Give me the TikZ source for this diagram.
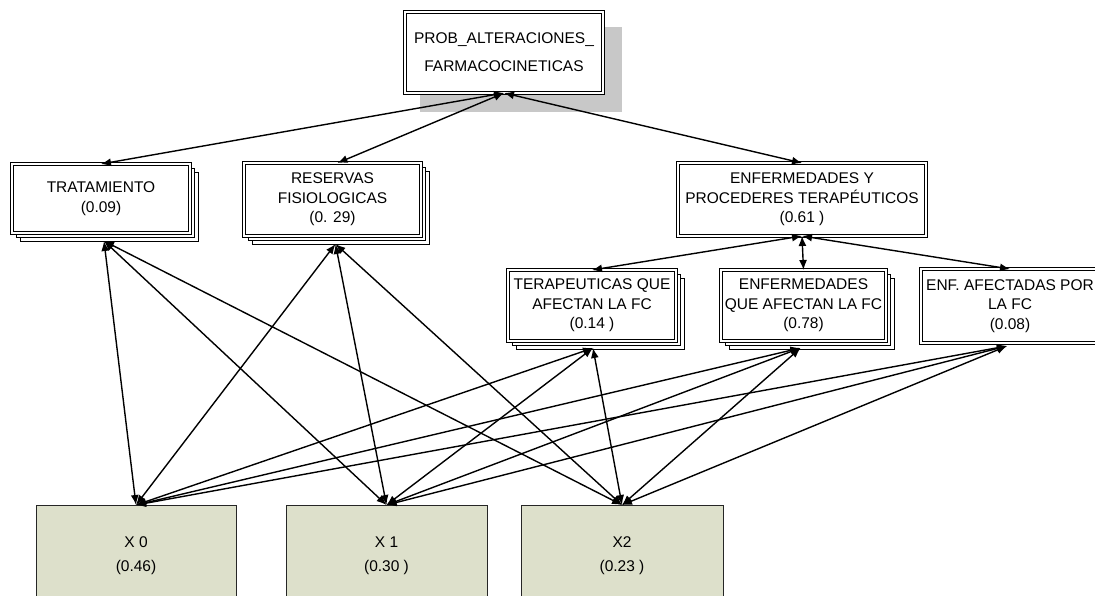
\documentclass[tikz,border=0pt]{standalone}
\usepackage{fontspec}
\setmainfont{Liberation Sans}
\usetikzlibrary{arrows.meta,backgrounds}
\definecolor{xfill}{RGB}{221,224,203}
\definecolor{shadegray}{RGB}{200,200,200}
\begin{document}
\begin{tikzpicture}[x=1pt,y=-1pt,
  every node/.style={font=\fontsize{15.5}{19.5}\selectfont, align=center, inner sep=0pt, outer sep=0pt},
  dbox/.style={draw=black, fill=white, line width=1pt, double=white, double distance=2pt},
  stackline/.style={draw=black, fill=white, line width=1pt},
  xbox/.style={draw=black!85, fill=xfill, line width=1pt, font=\fontsize{15.5}{24}\selectfont},
  link/.style={line width=1.4pt, {Latex[length=10pt,width=8pt]}-{Latex[length=10pt,width=8pt]}}
]
\useasboundingbox (0,0) rectangle (1095,595);
\clip (0,0) rectangle (1095,595);

% upper nodes
\node[dbox, minimum width=198pt, minimum height=81pt, font=\fontsize{15.5}{28}\selectfont] (top) at (504,52.5) {PROB\_ALTERACIONES\_\\FARMACOCINETICAS};
\node[dbox, minimum width=178pt, minimum height=69pt] (trat) at (101,198.5) {TRATAMIENTO\\(0.09)};
\node[dbox, minimum width=177pt, minimum height=73pt] (res) at (332.5,199.5) {RESERVAS\\FISIOLOGICAS\\(0. 29)};
\node[dbox, minimum width=248pt, minimum height=73pt] (enfyp) at (802,199.5) {ENFERMEDADES Y\\PROCEDERES TERAPÉUTICOS\\(0.61 )};
\node[dbox, minimum width=168pt, minimum height=71pt] (ter) at (592,305.5) {TERAPEUTICAS QUE\\AFECTAN LA FC\\(0.14 )};
\node[dbox, minimum width=165pt, minimum height=71pt] (eq) at (803.5,305.5) {ENFERMEDADES\\QUE AFECTAN LA FC\\(0.78)};
\node[dbox, minimum width=178pt, minimum height=74pt] (ea) at (1010,306) {ENF. AFECTADAS POR\\LA FC\\(0.08)};

% lower nodes
\node[xbox, minimum width=200pt, minimum height=102pt] (x0) at (136,556) {X 0\\(0.46)};
\node[xbox, minimum width=201pt, minimum height=102pt] (x1) at (386.5,556) {X 1\\(0.30 )};
\node[xbox, minimum width=202pt, minimum height=102pt] (x2) at (622,556) {X2\\(0.23 )};

% shadow and stacked copies behind
\begin{scope}[on background layer]
  \fill[shadegray] ([shift={(15pt,-19pt)}]top.south west) rectangle ([shift={(19pt,-15pt)}]top.north east);
  \foreach \n in {trat,res,ter,eq}{
    \draw[stackline] ([shift={(8pt,-8pt)}]\n.south west) rectangle ([shift={(8pt,-8pt)}]\n.north east);
    \draw[stackline] ([shift={(4.5pt,-4.5pt)}]\n.south west) rectangle ([shift={(4.5pt,-4.5pt)}]\n.north east);
  }
\end{scope}

% connectors from the top node
\draw[link] (top.south) -- (trat.north);
\draw[link] (top.south) -- ([xshift=5pt]res.north);
\draw[link] (top.south) -- (enfyp.north);
\draw[link] (enfyp.south) -- (ter.north);
\draw[link] (enfyp.south) -- (eq.north);
\draw[link] (enfyp.south) -- (ea.north);

% connectors to the X nodes
\foreach \s/\dx/\dy in {trat/3/-8, res/3/-8, ter/1/-7, eq/-3/-7, ea/-3/-3}{
  \foreach \t in {x0,x1,x2}{
    \draw[link] ([shift={(\dx pt,\dy pt)}]\s.south) -- (\t.north);
  }
}
\end{tikzpicture}
\end{document}
